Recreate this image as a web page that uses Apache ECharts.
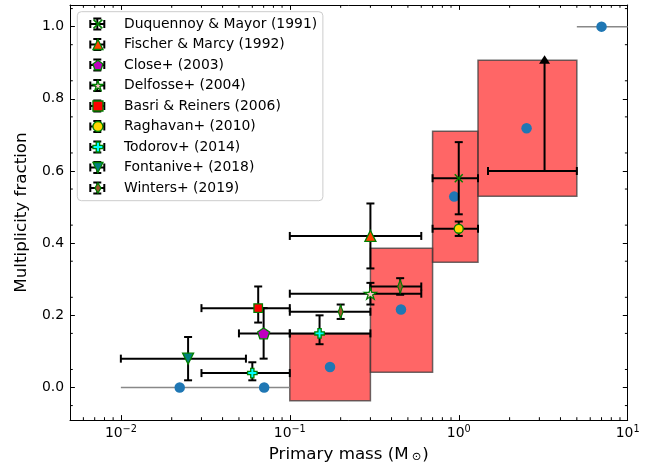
<!DOCTYPE html>
<html>
<head>
<meta charset="utf-8">
<script src="https://cdn.jsdelivr.net/npm/echarts@6/dist/echarts.min.js"></script>
<style>html,body{margin:0;padding:0;background:#fff;}#c{width:662px;height:472px;}</style>
</head>
<body>
<div id="c"></div>
<script>
// ---------------- data ----------------
const studies = ['Duquennoy & Mayor (1991)', 'Fischer & Marcy (1992)', 'Close+ (2003)', 'Delfosse+ (2004)',
  'Basri & Reiners (2006)', 'Raghavan+ (2010)', 'Todorov+ (2014)', 'Fontanive+ (2018)', 'Winters+ (2019)'];
// each point: [mass, fraction, massLo, massHi, fracLo, fracHi]
const duquennoy = [[1.0, 0.58, 0.7, 1.3, 0.48, 0.68]];
const fischer   = [[0.3, 0.42, 0.1, 0.6, 0.33, 0.51]];
const close     = [[0.07, 0.15, 0.05, 0.1, 0.08, 0.22]];
const delfosse  = [[0.3, 0.26, 0.1, 0.6, 0.23, 0.29]];
const basri     = [[0.065, 0.22, 0.03, 0.1, 0.18, 0.28]];
const raghavan  = [[1.0, 0.44, 0.7, 1.3, 0.42, 0.46]];
const todorov   = [[0.06, 0.04, 0.03, 0.1, 0.02, 0.07], [0.15, 0.15, 0.1, 0.3, 0.12, 0.20]];
const fontanive = [[0.025, 0.08, 0.01, 0.055, 0.02, 0.14]];
const winters   = [[0.2, 0.21, 0.1, 0.3, 0.19, 0.23], [0.45, 0.28, 0.3, 0.6, 0.257, 0.303]];

// model bins (boxes) and model points
const modelMassLo = [0.1, 0.3, 0.7, 1.3];
const modelMassHi = [0.3, 0.7, 1.3, 5.0];
const modelFracLo = [-0.037, 0.042, 0.347, 0.530];
const modelFracHi = [0.149, 0.386, 0.710, 0.907];
const modelMass   = [0.173, 0.455, 0.94, 2.52];
const modelFrac   = [0.057, 0.216, 0.529, 0.7185];

// extra model points with mass ranges (grey lines)
const extraMass = [0.0223, 0.0705, 7.0];
const extraFrac = [0.0, 0.0, 1.0];
const extraRangeLo = [0.01, 5.0];
const extraRangeHi = [0.1, 10.0];
const extraRangeFrac = [0.0, 1.0];

// lower limit with arrow
const limitMass = [3.22];
const limitFrac = [0.6];
const limitMassLo = [1.49];
const limitMassHi = [5.0];
const limitFracTop = [0.9];

// tick values
const xMinorTicks = [0.006, 0.007, 0.008, 0.009, 0.02, 0.03, 0.04, 0.05, 0.06, 0.07, 0.08, 0.09,
  0.2, 0.3, 0.4, 0.5, 0.6, 0.7, 0.8, 0.9, 2, 3, 4, 5, 6, 7, 8, 9];
const yMinorTicks = [-0.05, 0.05, 0.15, 0.25, 0.35, 0.45, 0.55, 0.65, 0.75, 0.85, 0.95, 1.05];

// ---------------- styles ----------------
const FONT = 'DejaVu Sans';
const EDGE = '#008000';
const P = {
  x: 'path://M0,1.4L1.4,0L6,4.6L10.6,0L12,1.4L7.4,6L12,10.6L10.6,12L6,7.4L1.4,12L0,10.6L4.6,6Z',
  tri: 'path://M5,0L10,10L0,10Z',
  pent: 'path://M50,0L97.55,34.55L79.39,90.45L20.61,90.45L2.45,34.55Z',
  star: 'path://M50,0L61.2,34.5L97.6,34.5L68.2,55.9L79.4,90.5L50,69.1L20.6,90.5L31.8,55.9L2.4,34.5L38.8,34.5Z',
  sq: 'path://M0,0H10V10H0Z',
  circ: 'circle',
  plus: 'path://M3.3,0H6.7V3.3H10V6.7H6.7V10H3.3V6.7H0V3.3H3.3Z',
  vtri: 'path://M0,0L10,0L5,10Z',
  dia: 'path://M3,0L6,5L3,10L0,5Z'
};
const markers = [
  {data: duquennoy, symbol: P.x,    size: [9, 9],   color: '#008000', bw: 0},
  {data: fischer,   symbol: P.tri,  size: [11, 11], color: '#ff4500', bw: 1.3},
  {data: close,     symbol: P.pent, size: [12, 11.5], color: '#bf00bf', bw: 1.3},
  {data: delfosse,  symbol: P.star, size: [12, 11.5], color: '#ffc0cb', bw: 1.3},
  {data: basri,     symbol: P.sq,   size: [8.5, 8.5], color: '#ff0000', bw: 1.3},
  {data: raghavan,  symbol: P.circ, size: [9, 9],   color: '#ffd700', bw: 1.3},
  {data: todorov,   symbol: P.plus, size: [9.5, 9.5], color: '#00ffff', bw: 1.3},
  {data: fontanive, symbol: P.vtri, size: [11, 11], color: '#008080', bw: 1.3},
  {data: winters,   symbol: P.dia,  size: [8, 13], color: '#a0522d', bw: 1.3}
];
const crossIcon = 'path://M0,5.5H16V7.5H0Z M7,0H9V13H7Z M0,2.5H2V10.5H0Z M14,2.5H16V10.5H14Z M4,0H12V2H4Z M4,11H12V13H4Z';

const allErr = [].concat(duquennoy, fischer, close, delfosse, basri, raghavan, todorov, fontanive, winters);
const boxData = modelMassLo.map((v, i) => [v, modelMassHi[i], modelFracLo[i], modelFracHi[i]]);

// ---------------- render helpers ----------------
function ln(x1, y1, x2, y2, w, c) {
  return {type: 'line', shape: {x1, y1, x2, y2}, style: {stroke: c || '#000', lineWidth: w || 2}};
}
const CAP = 4;
function renderErr(params, api) {
  const x = api.value(0), y = api.value(1);
  const p = api.coord([x, y]);
  const xl = api.coord([api.value(2), y])[0], xh = api.coord([api.value(3), y])[0];
  const yl = api.coord([x, api.value(4)])[1], yh = api.coord([x, api.value(5)])[1];
  return {type: 'group', children: [
    ln(xl, p[1], xh, p[1]), ln(p[0], yl, p[0], yh),
    ln(xl, p[1] - CAP, xl, p[1] + CAP), ln(xh, p[1] - CAP, xh, p[1] + CAP),
    ln(p[0] - CAP, yl, p[0] + CAP, yl), ln(p[0] - CAP, yh, p[0] + CAP, yh)
  ]};
}
function renderBox(params, api) {
  const a = api.coord([api.value(0), api.value(3)]);
  const b = api.coord([api.value(1), api.value(2)]);
  return {type: 'rect', shape: {x: a[0], y: a[1], width: b[0] - a[0], height: b[1] - a[1]},
    style: {fill: 'rgba(255,0,0,0.6)', stroke: 'rgba(60,60,60,0.75)', lineWidth: 1.5}};
}
function renderLimit(params, api) {
  const x = api.value(0), y = api.value(1);
  const p = api.coord([x, y]);
  const xl = api.coord([api.value(2), y])[0], xh = api.coord([api.value(3), y])[0];
  const top = api.coord([x, api.value(4)])[1];
  return {type: 'group', children: [
    ln(xl, p[1], xh, p[1]), ln(p[0], p[1], p[0], top),
    ln(xl, p[1] - CAP, xl, p[1] + CAP), ln(xh, p[1] - CAP, xh, p[1] + CAP),
    {type: 'polygon', shape: {points: [[p[0], top - 7.5], [p[0] - 5.5, top + 1], [p[0] + 5.5, top + 1]]}, style: {fill: '#000'}}
  ]};
}
function renderMinor(params, api) {
  const cs = params.coordSys;
  const L = 2.8, ch = [];
  xMinorTicks.forEach(v => {
    const px = api.coord([v, 0.5])[0];
    ch.push(ln(px, cs.y + cs.height, px, cs.y + cs.height - L, 1, '#000'));
    ch.push(ln(px, cs.y, px, cs.y + L, 1, '#000'));
  });
  yMinorTicks.forEach(v => {
    const py = api.coord([1, v])[1];
    ch.push(ln(cs.x, py, cs.x + L, py, 1, '#000'));
    ch.push(ln(cs.x + cs.width, py, cs.x + cs.width - L, py, 1, '#000'));
  });
  return {type: 'group', children: ch};
}

const series = [
  {type: 'custom', name: 'model bins', coordinateSystem: 'cartesian2d', renderItem: renderBox,
   data: boxData, encode: {x: [0, 1], y: [2, 3]}, z: 1, silent: true},
  {type: 'line', name: 'range0', data: [[extraRangeLo[0], extraRangeFrac[0]], [extraRangeHi[0], extraRangeFrac[0]]],
   symbol: 'none', lineStyle: {color: '#888888', width: 1.5}, z: 2, silent: true},
  {type: 'line', name: 'range1', data: [[extraRangeLo[1], extraRangeFrac[1]], [extraRangeHi[1], extraRangeFrac[1]]],
   symbol: 'none', lineStyle: {color: '#888888', width: 1.5}, z: 2, silent: true},
  {type: 'scatter', name: 'model', data: modelMass.map((m, i) => [m, modelFrac[i]]).concat(extraMass.map((m, i) => [m, extraFrac[i]])),
   symbol: 'circle', symbolSize: 10.5, itemStyle: {color: '#1f77b4', opacity: 1}, z: 3, silent: true},
  {type: 'custom', name: 'errors', coordinateSystem: 'cartesian2d', renderItem: renderErr,
   data: allErr, encode: {x: [0, 2, 3], y: [1, 4, 5]}, z: 4, silent: true},
  {type: 'custom', name: 'limit', coordinateSystem: 'cartesian2d', renderItem: renderLimit,
   data: limitMass.map((m, i) => [m, limitFrac[i], limitMassLo[i], limitMassHi[i], limitFracTop[i]]),
   encode: {x: [0, 2, 3], y: [1, 4]}, z: 4, silent: true},
  {type: 'custom', name: 'minor', coordinateSystem: 'cartesian2d', renderItem: renderMinor,
   data: [[1, 0.5]], z: 7, silent: true}
];
markers.forEach((m, i) => {
  series.push({type: 'scatter', name: studies[i], data: m.data.map(d => [d[0], d[1]]),
    symbol: m.symbol, symbolSize: m.size, symbolKeepAspect: true,
    itemStyle: {color: m.color, borderColor: EDGE, borderWidth: m.bw, opacity: 1}, z: 5, silent: true});
});

function xLabel(v) {
  const lg = Math.log10(v);
  const e = Math.round(lg);
  if (Math.abs(lg - e) > 1e-6) return '';
  return '{b|10}{s|' + (e < 0 ? '\u2212' + (-e) : String(e)) + '}';
}
const xRich = {b: {fontSize: 13.9, fontFamily: FONT, color: '#000', lineHeight: 18},
               s: {fontSize: 9.7, fontFamily: FONT, color: '#000', lineHeight: 10, verticalAlign: 'top'}};
const axLine = {onZero: false, lineStyle: {color: '#000', width: 1}};

const option = {
  animation: false,
  backgroundColor: '#fff',
  grid: {left: 70, right: 34.3, top: 5, bottom: 52, containLabel: false},
  xAxis: [
    {type: 'log', logBase: 10, min: 0.005, max: 10, position: 'bottom', axisLine: axLine, splitLine: {show: false},
      axisTick: {inside: true, length: 4.9, lineStyle: {color: '#000', width: 1}},
      axisLabel: {formatter: xLabel, rich: xRich, margin: 4, showMinLabel: false, color: '#000'},
      name: 'Primary mass (M{sub|\u2299})', nameLocation: 'middle', nameGap: 26,
      nameTextStyle: {fontSize: 16.7, fontFamily: FONT, color: '#000',
        rich: {sub: {fontSize: 11.5, fontFamily: FONT, color: '#000', padding: [0, 1, 0, 3], verticalAlign: 'bottom', lineHeight: 14}}}
    },
    {type: 'log', logBase: 10, min: 0.005, max: 10, position: 'top', axisLine: axLine, splitLine: {show: false},
      axisTick: {inside: true, length: 4.9, lineStyle: {color: '#000', width: 1}},
      axisLabel: {show: false}}
  ],
  yAxis: [
    {type: 'value', min: -0.09, max: 1.06, position: 'left', axisLine: axLine, splitLine: {show: false},
      axisTick: {inside: true, length: 4.9, lineStyle: {color: '#000', width: 1}},
      axisLabel: {formatter: v => (Math.abs(v * 5 - Math.round(v * 5)) < 1e-6 && v >= 0 && v <= 1.0001) ? v.toFixed(1) : '',
        fontSize: 13.9, fontFamily: FONT, color: '#000', margin: 6, showMinLabel: false, showMaxLabel: false},
      name: 'Multiplicity fraction', nameLocation: 'middle', nameGap: 40,
      nameTextStyle: {fontSize: 16.7, fontFamily: FONT, color: '#000'}
    },
    {type: 'value', min: -0.09, max: 1.06, position: 'right', axisLine: axLine, splitLine: {show: false},
      axisTick: {inside: true, length: 4.9, lineStyle: {color: '#000', width: 1}},
      axisLabel: {show: false}}
  ],
  legend: [
    {left: 77.3, top: 11.7, orient: 'vertical', selectedMode: false, z: 10,
     padding: [4.3, 6.4, 4.7, 12], itemGap: 4.5, itemWidth: 16, itemHeight: 13,
     backgroundColor: 'rgba(255,255,255,0.8)', borderColor: '#cccccc', borderWidth: 1, borderRadius: 4,
     textStyle: {fontSize: 13.9, fontFamily: FONT, color: 'rgba(0,0,0,0)', lineHeight: 16, padding: [0, 0, 0, 13]},
     data: studies.map(n => ({name: n, icon: crossIcon, itemStyle: {color: '#000', borderWidth: 0, opacity: 1}}))},
    {left: 92.3, top: 11.7, orient: 'vertical', selectedMode: false, z: 11,
     padding: [4.3, 0, 4.7, 0], itemGap: 4.5, itemWidth: 10, itemHeight: 10,
     textStyle: {fontSize: 13.9, fontFamily: FONT, color: '#000', lineHeight: 16, padding: [0, 0, 0, 16]},
     data: studies.map((n, i) => ({name: n, icon: markers[i].symbol,
       itemStyle: {color: markers[i].color, borderColor: EDGE, borderWidth: markers[i].bw, opacity: 1}}))}
  ],
  series: series
};
const chart = echarts.init(document.getElementById('c'), null, {renderer: 'canvas'});
chart.setOption(option);
</script>
</body>
</html>
